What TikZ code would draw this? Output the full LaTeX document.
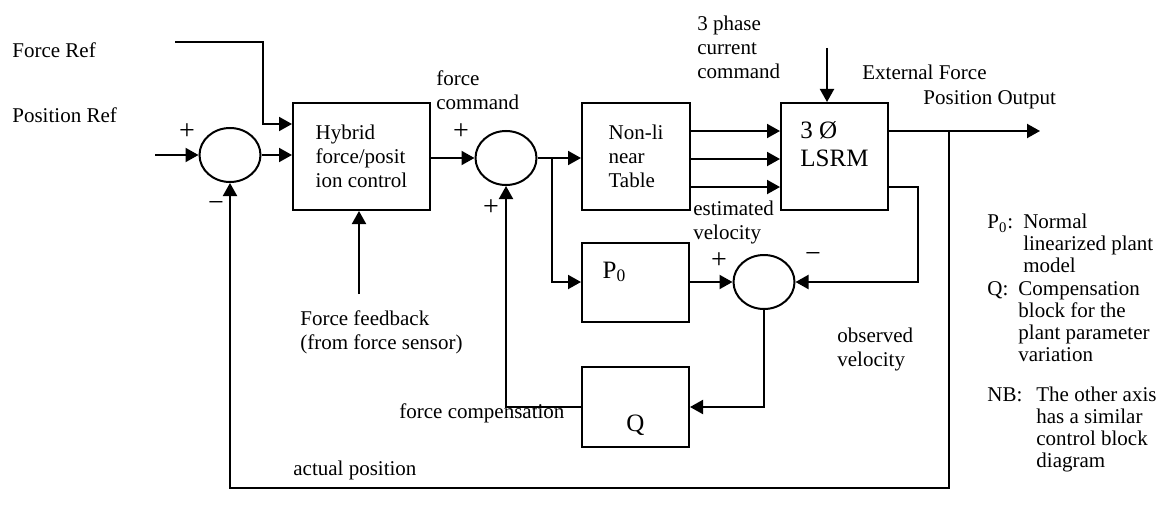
\documentclass[tikz,border=0pt]{standalone}
\usepackage{fontspec}
\setmainfont{Liberation Serif}
\usetikzlibrary{shapes.geometric,arrows.meta,positioning,calc}

\tikzset{
  block/.style={draw, line width=1pt, rectangle, align=left, inner sep=0pt},
  junction/.style={draw, line width=1pt, ellipse, minimum width=30.5pt, minimum height=27pt, inner sep=0pt},
  arr/.style={line width=1pt, -{Triangle[length=6.5pt,width=7pt]}},
  txt/.style={inner sep=0pt, align=left, anchor=west},
  sign/.style={inner sep=0pt, font=\fontsize{14}{14}\selectfont}
}

\begin{document}
\begin{tikzpicture}[x=0.5pt, y=-0.5pt, font=\fontsize{10.5}{12}\selectfont]
        \useasboundingbox (0,0) rectangle (1160,508);

            % blocks
            \node[block, minimum width=68.5pt, minimum height=53.5pt] (hyb) at (361.5,156.5) {Hybrid\\force/posit\\ion control};
            \node[block, minimum width=54pt, minimum height=53.5pt] (nl) at (636,156.5) {Non-li\\near\\Table};
            \node[block, minimum width=53.5pt, minimum height=53.5pt,
                  label={[yshift=6pt, align=left, font=\fontsize{12.5}{14}\selectfont]center:{3 Ø\\LSRM}}] (lsrm) at (834.5,156.5) {};
            \node[block, minimum width=53.5pt, minimum height=39.5pt,
                  label={[xshift=-10.5pt, yshift=5pt, font=\fontsize{12.5}{14}\selectfont]center:P\textsubscript{0}}] (p0) at (635.5,282) {};
            \node[block, minimum width=53.5pt, minimum height=40pt,
                  label={[yshift=-9pt, font=\fontsize{12.5}{14}\selectfont]center:Q}] (q) at (635.5,407) {};

            \node[junction] (s1) at (230,155) {};
            \node[junction] (s2) at (506,158) {};
            \node[junction] (s3) at (764,282) {};

            \coordinate (posref) at (155,155);
            \coordinate (forceref) at (175,42);
            \coordinate (fbend) at (263,124);
            \coordinate (fsensor) at (359,294);
            \coordinate (split1) at (552,158);
            \coordinate (extforce) at (827,48);
            \coordinate (posout) at (1040,131);
            \coordinate (split2) at (949,131);
            \coordinate (fbline) at (949,488);
            \coordinate (vout) at (918,187);

            % connectors
            \draw[arr] (posref) -- (s1);
            \draw[arr] (s1) -- (s1 -| hyb.west);
            \draw[arr] (forceref) -| (fbend) -- (fbend -| hyb.west);
            \draw[arr] (fsensor) -- (fsensor |- hyb.south);
            \draw[arr] (s2 -| hyb.east) -- (s2);
            \draw[arr] (s2) -- (s2 -| nl.west);
            \draw[arr] (split1) |- (p0.west);
            \foreach \yy in {131,159,187}
                \draw[arr] (nl.east |- 0,\yy) -- (lsrm.west |- 0,\yy);
            \draw[arr] (extforce) -- (extforce |- lsrm.north);
            \draw[arr] (lsrm.east |- posout) -- (posout);
            \draw[arr] (split2) -- (fbline) -| (s1);
            \draw[arr] (lsrm.east |- vout) -- (vout) |- (s3);
            \draw[arr] (p0) -- (s3);
            \draw[arr] (s3) |- (q);
            \draw[arr] (q) -| (s2);

            % signs
            \node[sign] (p1) at (187,132) {+};
            \node[sign] (m1) at (216,207) {−};
            \node[sign] (p2) at (461,132) {+};
            \node[sign] (p3) at (491,208) {+};
            \node[sign] (p4) at (719,261) {+};
            \node[sign] (m2) at (813,257) {−};

            % labels
            \node[txt] (lforce) at (12,50) {Force Ref};
            \node[txt] (lpos) at (12,115) {Position Ref};
            \node[txt] (lcmd) at (436,90) {force\\command};
            \node[txt] (lphase) at (697,47) {3 phase\\current\\command};
            \node[txt] (lext) at (862,72) {External Force};
            \node[txt] (lout) at (923,100) {Position Output};
            \node[txt] (lest) at (693,222) {estimated\\velocity};
            \node[txt] (lobs) at (837,349.5) {observed\\velocity};
            \node[txt] (lfb) at (300,332.5) {Force feedback\\(from force sensor)};
            \node[txt] (lcomp) at (399,413) {force compensation};
            \node[txt] (lact) at (293,470) {actual position};

            % legend
            \node[txt, font=\fontsize{10.5}{11}\selectfont] (key1) at (987,246.5) {%
                \begin{tabular}{@{}l@{\hspace{5pt}}l@{}}P\textsubscript{0}: & Normal\\ & linearized plant\\ & model\end{tabular}};
            \node[txt, font=\fontsize{10.5}{11}\selectfont] (key2) at (987,324) {%
                \begin{tabular}{@{}l@{\hspace{5pt}}l@{}}Q: & Compensation\\ & block for the\\ & plant parameter\\ & variation\end{tabular}};
            \node[txt, font=\fontsize{10.5}{11}\selectfont] (key3) at (987,430) {%
                \begin{tabular}{@{}l@{\hspace{7pt}}l@{}}NB: & The other axis\\ & has a similar\\ & control block\\ & diagram\end{tabular}};

        \end{tikzpicture}
\end{document}
